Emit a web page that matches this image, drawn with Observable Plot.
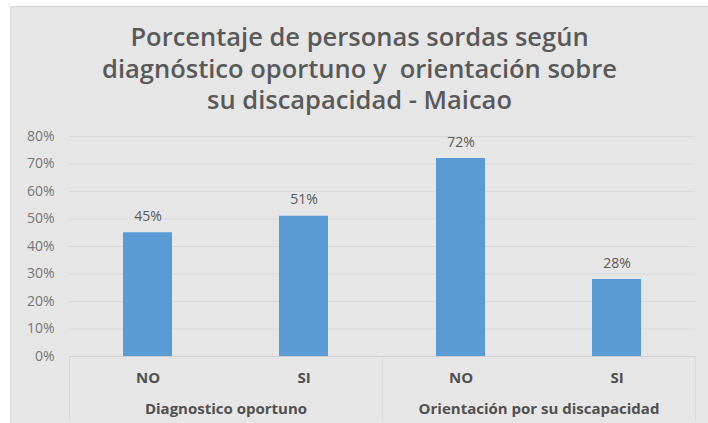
<!DOCTYPE html>
<html><head><meta charset="utf-8">
<script src="https://cdn.jsdelivr.net/npm/d3@7"></script>
<script src="https://cdn.jsdelivr.net/npm/@observablehq/plot@0.6"></script>
<style>
body{margin:0;background:#fff;}
#chart{position:absolute;left:10px;top:6px;width:698px;height:417px;background:#e6e6e6;border-left:1px solid #d6d6d6;border-top:1px solid #d6d6d6;box-sizing:border-box;overflow:hidden;}
#title{height:113px;box-sizing:border-box;padding-top:14px;text-align:center;font-family:"Open Sans",sans-serif;font-weight:600;font-size:25.5px;line-height:31.5px;color:#595959;white-space:nowrap;}
#plot svg{display:block;}
</style>
</head><body>
<div id="chart">
  <div id="title">Porcentaje de personas sordas según<br>diagnóstico oportuno y&nbsp; orientación sobre<br>su discapacidad - Maicao</div>
  <div id="plot"></div>
</div>
<script>
const groups = ["Diagnostico oportuno", "Diagnostico oportuno", "Orientación por su discapacidad", "Orientación por su discapacidad"];
const answers = ["NO", "SI", "NO", "SI"];
const values = [0.45, 0.51, 0.72, 0.28];
const yTicks = [0, 0.1, 0.2, 0.3, 0.4, 0.5, 0.6, 0.7, 0.8];
const groupOrder = ["Diagnostico oportuno", "Orientación por su discapacidad"];
const answerOrder = ["NO", "SI"];

const data = values.map((v, i) => ({group: groups[i], answer: answers[i], value: v}));
const pct = d3.format(".0%");

const chart = Plot.plot({
  width: 697,
  height: 300,
  marginLeft: 57,
  marginRight: 13,
  marginTop: 16,
  marginBottom: 64,
  style: {fontFamily: "Open Sans, sans-serif", fontSize: "13px", color: "#595959", background: "transparent"},
  fx: {domain: groupOrder, padding: 0, label: null},
  x: {domain: answerOrder, paddingInner: 0.688, paddingOuter: 0.344, label: null},
  y: {domain: [0, 0.8], label: null},
  marks: [
    Plot.gridY(yTicks, {stroke: "#d9d9d9", strokeOpacity: 1}),
    Plot.frame({anchor: "left", stroke: "#d9d9d9", strokeOpacity: 1, insetTop: 220, insetBottom: -64}),
    Plot.frame({anchor: "right", stroke: "#d9d9d9", strokeOpacity: 1, insetTop: 220, insetBottom: -64}),
    Plot.ruleY([0], {stroke: "#d0d0d0"}),
    Plot.barY(data, {fx: "group", x: "answer", y: "value", fill: "#5b9bd5"}),
    Plot.text(data, {fx: "group", x: "answer", y: "value", text: d => pct(d.value), lineAnchor: "bottom", dy: -12, fill: "#595959", fontSize: 14}),
    Plot.axisY(yTicks, {tickFormat: pct, tickSize: 0, tickPadding: 15, fontSize: 14, fill: "#767676", label: null}),
    Plot.axisX({anchor: "bottom", tickSize: 0, tickPadding: 16, fontSize: 15, fontWeight: "bold", fill: "#505050", label: null}),
    Plot.axisFx({anchor: "bottom", tickSize: 0, tickPadding: 47, fontSize: 15, fontWeight: "bold", fill: "#505050", label: null})
  ]
});
document.getElementById("plot").appendChild(chart);
</script>
</body></html>
